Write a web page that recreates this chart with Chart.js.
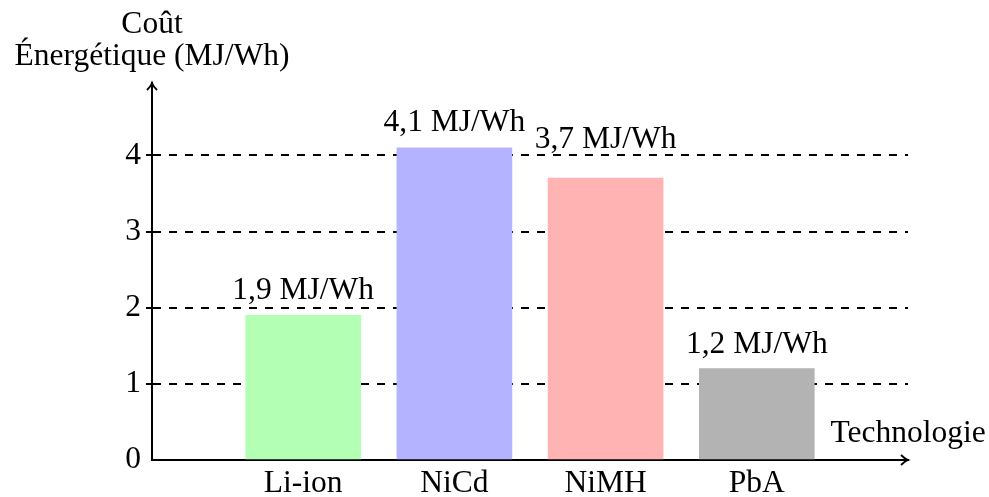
<!DOCTYPE html>
<html>
<head>
<meta charset="utf-8">
<script src="https://cdn.jsdelivr.net/npm/chart.js@4"></script>
<style>
    html, body { margin: 0; padding: 0; background: #fff; }
    #wrap { width: 989px; height: 497px; }
</style>
</head>
<body>
<div id="wrap"><canvas id="chart"></canvas></div>
<script>
// padded with empty slots so the bars sit at 1..4 on a 0..5 axis
const technologies = ['', 'Li-ion', 'NiCd', 'NiMH', 'PbA', ''];
const energyCost = [null, 1.9, 4.1, 3.7, 1.2, null];
const valueLabels = ['', '1,9 MJ/Wh', '4,1 MJ/Wh', '3,7 MJ/Wh', '1,2 MJ/Wh', ''];
const labelAt = [null, 2.11, 4.32, 4.1, 1.41, null]; // where the text baselines sit
const yTicks = [0, 1, 2, 3, 4];
const barColors = ['#fff', '#b3ffb3', '#b3b3ff', '#ffb3b3', '#b3b3b3', '#fff'];

const FONT = '"Liberation Serif", "Times New Roman", serif';
const FONT_SIZE = 31.5;

const drawArrowHead = (ctx, x, y, dir) => {
    // latex-ish "to" arrow tip, dir: 'up' or 'right'
    ctx.save();
    ctx.translate(x, y);
    if (dir === 'right') ctx.rotate(Math.PI / 2);
    ctx.beginPath();
    ctx.moveTo(-5, 7);
    ctx.quadraticCurveTo(-1, 3, 0, 0);
    ctx.quadraticCurveTo(1, 3, 5, 7);
    ctx.strokeStyle = '#000';
    ctx.lineWidth = 1.8;
    ctx.stroke();
    ctx.restore();
};

const extras = {
    id: 'extras',
    afterDraw(chart) {
        const ctx = chart.ctx;
        const area = chart.chartArea;
        const xs = chart.scales.x;
        const ys = chart.scales.y;

        drawArrowHead(ctx, area.left, area.top, 'up');
        drawArrowHead(ctx, area.right, area.bottom, 'right');

        ctx.save();
        ctx.fillStyle = '#000';
        ctx.font = FONT_SIZE + 'px ' + FONT;
        ctx.textAlign = 'center';
        ctx.textBaseline = 'alphabetic';

        // axis titles
        ctx.fillText('Coût', area.left, 33);
        ctx.fillText('Énergétique (MJ/Wh)', area.left, 65);
        ctx.fillText('Technologie', area.right, 442);

        // values above bars
        energyCost.forEach((v, i) => {
            if (v === null) return;
            ctx.fillText(valueLabels[i], xs.getPixelForValue(i), ys.getPixelForValue(labelAt[i]));
        });
        ctx.restore();
    }
};

new Chart(document.getElementById('chart'), {
    type: 'bar',
    data: {
        labels: technologies,
        datasets: [{
            data: energyCost,
            backgroundColor: barColors,
            borderWidth: 0,
            barThickness: 115
        }]
    },
    options: {
        responsive: true,
        maintainAspectRatio: false,
        animation: false,
        layout: { padding: { top: 83, right: 81, left: 0, bottom: 0 } },
        plugins: {
            legend: { display: false },
            tooltip: { enabled: false }
        },
        scales: {
            x: {
                offset: false,
                grid: { display: false, drawTicks: false },
                border: { display: true, color: '#000', width: 2 },
                ticks: {
                    autoSkip: false,
                    maxRotation: 0,
                    color: '#000',
                    padding: 5,
                    font: { family: FONT, size: FONT_SIZE }
                },
                afterFit: (scale) => { scale.height = 37; }
            },
            y: {
                min: 0,
                max: 4.95,
                afterBuildTicks: (scale) => {
                    scale.ticks = yTicks.map(v => ({ value: v }));
                },
                grid: {
                    color: (c) => c.tick && c.tick.value === 0 ? 'rgba(0,0,0,0)' : '#000',
                    lineWidth: 2,
                    tickColor: (c) => c.tick && c.tick.value === 0 ? 'rgba(0,0,0,0)' : '#000',
                    tickBorderDash: [],
                    tickLength: 6,
                    tickWidth: 2
                },
                // in v4 border.dash is what dashes the grid lines
                border: { display: true, color: '#000', width: 2, dash: [8, 8] },
                ticks: {
                    color: '#000',
                    padding: 5,
                    font: { family: FONT, size: FONT_SIZE }
                },
                afterFit: (scale) => { scale.width = 152; }
            }
        }
    },
    plugins: [extras]
});
</script>
</body>
</html>
